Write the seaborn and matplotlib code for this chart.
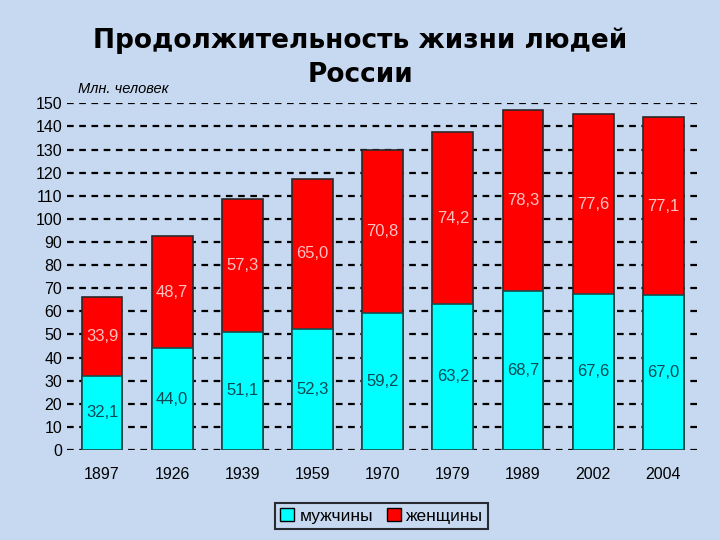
import pandas as pd
import seaborn as sns
import matplotlib.pyplot as plt
from matplotlib.patches import Patch

years = ['1897', '1926', '1939', '1959', '1970', '1979', '1989', '2002', '2004']
men = [32.1, 44.0, 51.1, 52.3, 59.2, 63.2, 68.7, 67.6, 67.0]
women = [33.9, 48.7, 57.3, 65.0, 70.8, 74.2, 78.3, 77.6, 77.1]

df = pd.DataFrame({'year': years, 'men': men, 'women': women})
df['total'] = df['men'] + df['women']

bg = '#C6D9F1'
sns.set_style('white')
plt.rcParams['font.family'] = ['Liberation Sans', 'DejaVu Sans']
plt.rcParams['text.color'] = 'black'

fig = plt.figure(figsize=(7.2, 5.4), dpi=100, facecolor=bg)
ax = fig.add_axes([0.093, 0.1667, 0.877, 0.642])
ax.set_facecolor(bg)

# dashed grid behind bars
for v in range(0, 151, 10):
    ax.axhline(v, color='black', linestyle=(0, (3, 2.5)), linewidth=1.6, zorder=0)

# stacked bars: total first (red), then men (cyan) over it
sns.barplot(data=df, x='year', y='total', color='#FF0000', width=0.58,
            edgecolor='#2a2a2a', linewidth=1.2, saturation=1, ax=ax, zorder=2)
sns.barplot(data=df, x='year', y='men', color='#00FFFF', width=0.58,
            edgecolor='#1a4a4a', linewidth=1.2, saturation=1, ax=ax, zorder=3)

for i in range(len(years)):
    ax.text(i, men[i] / 2, f'{men[i]:.1f}'.replace('.', ','), ha='center', va='center',
            fontsize=12, color='#0b4a55', zorder=4)
    ax.text(i, men[i] + women[i] / 2, f'{women[i]:.1f}'.replace('.', ','), ha='center',
            va='center', fontsize=12, color='#FFC0C0', zorder=4)

ax.set_ylim(0, 150)
ax.set_xlim(-0.5, len(years) - 0.5)
ax.set_yticks(range(0, 151, 10))
ax.tick_params(axis='both', labelsize=11.5, length=0, colors='black')
ax.tick_params(axis='x', pad=12)
ax.set_xlabel('')
ax.set_ylabel('')
sns.despine(ax=ax, left=True, bottom=True)

fig.text(0.108, 0.835, 'Млн. человек', fontsize=10.5, style='italic', ha='left', va='center')

# title in two lines, each as its own text
fig.text(0.5, 0.924, 'Продолжительность жизни людей', ha='center', va='center',
         fontsize=19, fontweight='bold', family='DejaVu Sans')
fig.text(0.5, 0.862, 'России', ha='center', va='center',
         fontsize=19, fontweight='bold', family='DejaVu Sans')

handles = [Patch(facecolor='#00FFFF', edgecolor='black', label='мужчины'),
           Patch(facecolor='#FF0000', edgecolor='black', label='женщины')]
leg = fig.legend(handles=handles, loc='center', bbox_to_anchor=(0.53, 0.045), ncol=2,
                 frameon=True, fontsize=12.5, handlelength=0.8, handleheight=0.8,
                 handletextpad=0.3, columnspacing=0.8, borderpad=0.3, fancybox=False)
leg.get_frame().set_edgecolor('black')
leg.get_frame().set_facecolor(bg)
leg.get_frame().set_linewidth(1.5)

fig.savefig('out.png', dpi=100, facecolor=bg)
